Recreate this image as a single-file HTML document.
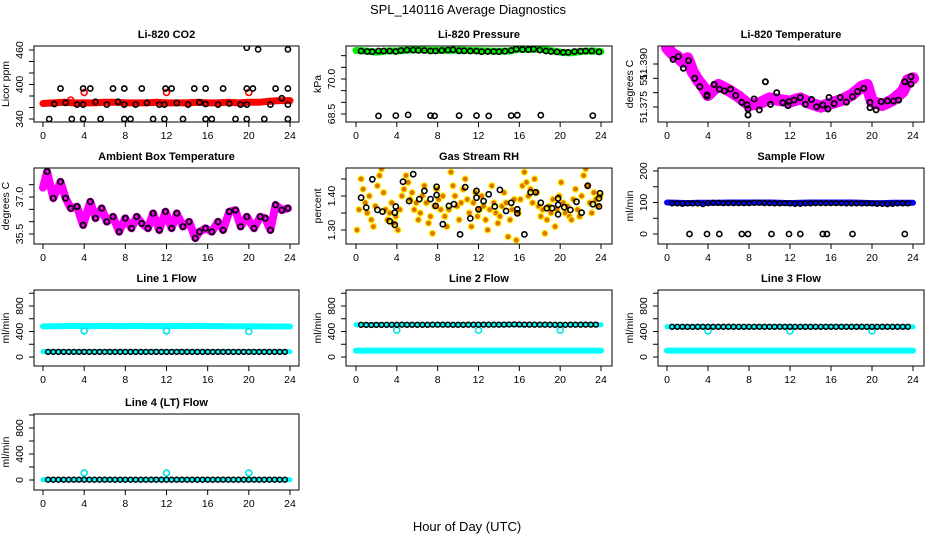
<!DOCTYPE html>
<html><head><meta charset="utf-8">
<style>
html,body{margin:0;padding:0;background:#fff;}
svg{display:block;font-family:"Liberation Sans",Arial,sans-serif;}
</style></head>
<body>
<svg id="chart" width="936" height="540" viewBox="0 0 936 540">
<text x="468" y="14" text-anchor="middle" font-size="13">SPL_140116  Average Diagnostics</text>
<text x="467" y="531" text-anchor="middle" font-size="13">Hour of Day (UTC)</text>
</svg>
<script>
// ---------- DATA ----------
const xTicks = [0,4,8,12,16,20,24];

const co2BandV = [367,368,369,368,368,368,369,369,368,368,368,369,368,368,368,369,368,368,369,368,369,369,371,372,372];
const co2RedOutX = [2.7,4,12,20];
const co2RedOutV = [373,386,386,386];
const co2BlackX = [0.6,1.1,1.7,2.2,2.8,3.3,3.9,3.9,3.9,4.6,5.1,5.6,6.2,6.8,7.3,7.9,7.9,7.9,8.5,9.0,9.6,10.1,10.7,11.3,11.8,11.8,11.9,12.5,13.0,13.6,14.1,14.7,15.2,15.8,15.8,15.8,16.4,17.0,17.5,18.1,18.7,19.2,19.8,19.8,19.8,19.8,20.4,20.9,21.5,22.1,22.6,23.2,23.8,23.8,23.8,23.8];
const co2BlackV = [340,366,393,368,340,365,393,340,365,393,370,340,365,393,370,393,365,340,340,365,393,368,340,365,365,340,393,393,368,340,365,393,369,366,393,340,340,365,393,367,340,365,365,393,340,464,393,461,340,365,393,376,365,393,340,461];

const presBandV = [71.22,71.2,71.15,71.2,71.2,71.24,71.25,71.23,71.22,71.23,71.24,71.22,71.21,71.2,71.19,71.2,71.28,71.27,71.28,71.22,71.15,71.12,71.18,71.2,71.18];
const presBlackX = [0.5,1.1,1.6,2.2,2.7,3.3,3.9,4.4,5.0,5.6,6.1,6.7,7.3,7.8,8.4,9.0,9.5,10.1,10.6,11.2,11.8,12.3,12.9,13.5,14.0,14.6,15.2,15.7,16.3,16.9,17.4,18.0,18.6,19.1,19.7,20.3,20.8,21.4,22.0,22.5,23.1,23.8];
const presBlackV = [71.2,71.18,71.17,71.2,71.2,71.2,71.18,71.22,71.24,71.24,71.23,71.22,71.2,71.2,71.22,71.24,71.25,71.21,71.21,71.2,71.2,71.17,71.18,71.18,71.17,71.19,71.22,71.28,71.26,71.26,71.28,71.24,71.2,71.18,71.16,71.14,71.14,71.18,71.19,71.2,71.2,71.16];
const presOutX = [2.2,3.9,5.1,7.3,7.7,10.1,11.8,13.0,15.2,15.8,18.1,23.2];
const presOutV = [68.42,68.43,68.46,68.43,68.42,68.43,68.43,68.42,68.43,68.45,68.45,68.43];

const ltBandX = [0,0.5,1,1.5,2,2.5,3,3.5,4,4.5,5,6,7,8,9,10,11,12,13,14,15,16,17,18,19,19.5,20,21,22,23,23.5,24];
const ltBandV = [51.3957,51.3937,51.3926,51.3908,51.392,51.3873,51.3844,51.3821,51.3792,51.3809,51.3827,51.3809,51.3786,51.3757,51.3763,51.378,51.3774,51.3769,51.378,51.3763,51.3751,51.3763,51.3774,51.3792,51.3821,51.3827,51.3769,51.3757,51.3774,51.3804,51.3844,51.385];
const ltBlackX = [0.6,1.1,1.6,2.1,2.7,3.2,3.9,3.9,4.6,5.1,5.6,6.2,6.7,7.3,7.8,7.9,7.9,8.5,9.0,9.6,10.1,10.7,11.3,11.8,11.9,12.4,13.0,13.5,14.1,14.6,15.2,15.7,15.8,16.3,16.9,17.5,18.1,18.6,19.2,19.8,19.8,20.4,20.9,21.5,22.1,22.6,23.2,23.8,23.8];
const ltBlackV = [51.3916,51.3926,51.3885,51.3912,51.385,51.3821,51.3788,51.3792,51.3829,51.3812,51.3806,51.3812,51.379,51.3766,51.3757,51.3743,51.3722,51.3778,51.374,51.3838,51.3759,51.38,51.3765,51.3755,51.3769,51.3774,51.3783,51.3759,51.3776,51.3751,51.3757,51.3743,51.3783,51.3762,51.3783,51.3767,51.3786,51.3804,51.3815,51.3766,51.3748,51.374,51.3769,51.3771,51.3771,51.3774,51.3838,51.3856,51.383];

const abX = [0,0.4,1,1.7,2.2,2.7,3.3,3.9,4.6,5.1,5.7,6.2,6.8,7.4,8,8.6,9.1,9.6,10.2,10.7,11.3,11.9,12.5,13,13.6,14.2,14.8,15.2,15.8,16.4,17,17.5,18.1,18.7,19.2,19.8,20.5,21.1,21.6,22.1,22.6,23.2,23.8];
const abV = [37.38,38.03,36.95,37.62,36.95,36.54,36.61,35.86,36.81,36.14,36.54,36.0,36.2,35.59,36.14,35.73,36.2,35.93,35.73,36.34,35.66,36.41,35.73,36.34,35.8,36.0,35.33,35.59,35.73,35.59,36.0,35.66,36.41,36.47,35.8,36.2,35.73,36.2,36.14,35.66,36.68,36.47,36.54];

const rhOrangeV = [1.30,1.36,1.45,1.42,1.38,1.35,1.40,1.33,1.31,1.37,1.43,1.46,1.48,1.41,1.36,1.33,1.35,1.38,1.32,1.34,1.30,1.36,1.40,1.42,1.46,1.44,1.39,1.41,1.36,1.38,1.33,1.35,1.40,1.43,1.38,1.32,1.34,1.29,1.37,1.42,1.39,1.36,1.40,1.34,1.31,1.36,1.47,1.43,1.40,1.37,1.33,1.38,1.42,1.45,1.39,1.35,1.31,1.38,1.41,1.34,1.36,1.40,1.37,1.33,1.30,1.36,1.43,1.38,1.35,1.32,1.34,1.37,1.41,1.38,1.28,1.33,1.36,1.39,1.27,1.35,1.39,1.43,1.47,1.44,1.40,1.42,1.38,1.45,1.41,1.37,1.34,1.36,1.29,1.33,1.37,1.35,1.39,1.31,1.36,1.40,1.44,1.38,1.35,1.37,1.34,1.33,1.39,1.42,1.36,1.34,1.40,1.46,1.48,1.43,1.38,1.35,1.41,1.39,1.37,1.40];
const rhBlackX = [0.5,1.0,1.6,2.1,2.6,3.3,3.8,3.8,3.9,4.6,5.2,5.6,6.2,6.7,7.3,7.8,7.9,7.9,8.5,9.1,9.6,10.2,10.7,11.2,11.8,11.8,12.0,12.5,13.0,13.6,14.1,14.7,15.2,15.8,15.8,16.5,17.1,17.6,18.1,18.7,19.2,19.8,19.8,19.8,20.4,21.0,21.6,22.1,22.7,23.2,23.8,23.8,23.9];
const rhBlackV = [1.395,1.366,1.449,1.359,1.354,1.326,1.315,1.351,1.369,1.442,1.385,1.464,1.391,1.415,1.391,1.371,1.403,1.427,1.317,1.371,1.376,1.287,1.426,1.334,1.395,1.415,1.361,1.385,1.405,1.369,1.418,1.356,1.38,1.349,1.361,1.287,1.411,1.411,1.38,1.364,1.364,1.393,1.374,1.346,1.367,1.359,1.383,1.351,1.43,1.376,1.369,1.393,1.408];

const sfBandV = [100,99,98,99,99,99,100,100,100,100,100,99,98,99,100,100,100,100,100,99,98,98,99,99,99];
const sfBlackV = [97,97,96,97,97,97,95,98,99,99,98,98,98,98,98,98,99,99,98,98,97,97,98,97,96,96,97,97,98,98,98,98,98,98,97,97,97,97,97,97,96,96,95,96,97,97,97,96];
const sfOutX = [2.2,3.9,5.1,7.3,7.9,10.2,11.9,13.0,15.2,15.6,18.1,23.2];
const sfOutV = [0,0,0,0,0,0,0,0,0,0,0,0];

const l1HighV = [480,482,485,486,484,485,486,485,484,486,485,484,485,486,485,486,485,484,483,482,481,480,479,479,478];
const l1LowV  = [85,86,86,85,85,85,86,86,85,85,85,86,85,86,86,85,85,85,86,85,85,86,85,85,85];
const l1BlackV= [80,80,80,80,80,80,80,80,80,80,80,80,80,80,80,80,80,80,80,80,80,80,80,80,80,80,80,80,80,80,80,80,80,80,80,80,80,80,80,80,80,80,80,80,80,80,80];
const l1OutX = [4,12,20]; const l1OutV = [410,410,400];

const l2HighV = [505,505,505,505,505,505,505,505,505,505,505,505,505,505,505,505,505,505,505,505,505,505,505,505,505];
const l2LowV  = [100,100,101,100,100,100,101,100,100,100,101,100,100,100,100,101,100,100,100,100,100,100,100,100,100];
const l2BlackV= [505,503,502,503,504,505,505,505,506,505,505,505,505,505,507,507,506,506,505,505,505,506,507,507,508,507,507,507,508,510,512,510,508,508,507,506,506,506,505,505,505,506,507,507,508,508,508];
const l2OutX = [4,12,20]; const l2OutV = [420,420,420];

const l3HighV = [475,474,473,473,474,474,473,473,474,474,473,473,474,474,473,473,474,474,473,473,474,474,473,473,474];
const l3LowV  = [100,100,100,100,100,100,100,100,100,100,100,100,100,100,100,100,100,100,100,100,100,100,100,100,100];
const l3BlackV= [474,474,473,472,472,473,474,474,474,474,473,473,474,474,474,474,473,473,474,474,474,474,474,474,474,474,474,474,474,474,474,474,474,474,474,474,474,474,474,474,474,474,474,474,474,474,474];
const l3OutX = [4,12,20]; const l3OutV = [410,410,410];

const l4LowV  = [5,5,5,5,5,5,5,5,5,5,5,5,5,5,5,5,5,5,5,5,5,5,5,5,5];
const l4BlackV= [5,5,5,5,5,5,5,5,5,5,5,5,5,5,5,5,5,5,5,5,5,5,5,5,5,5,5,5,5,5,5,5,5,5,5,5,5,5,5,5,5,5,5,5,5,5,5];
const l4OutX = [4,12,20]; const l4OutV = [110,110,110];

// ---------- LAYOUT ----------
const NS = "http://www.w3.org/2000/svg";
const svg = document.getElementById('chart');
const cols = [{b0:34,b1:299,x0:43,x24:290},{b0:346,b1:612,x0:356,x24:601},{b0:658,b1:924,x0:667,x24:913}];
const rows = [{t:46,b:122},{t:168,b:244},{t:290,b:366},{t:414,b:490}];

function el(tag, attrs, parent){
  const e = document.createElementNS(NS, tag);
  for (const k in attrs) e.setAttribute(k, attrs[k]);
  (parent||svg).appendChild(e);
  return e;
}

function makePanel(slug, col, row, title, ylab, ymap, yticks, ylabels){
  const c = cols[col], r = rows[row];
  const g = el('g', {});
  
  
  const xs = v => c.x0 + (c.x24 - c.x0) * v / 24;
  const ys = v => ymap[1] + (v - ymap[0]) * (ymap[3] - ymap[1]) / (ymap[2] - ymap[0]);
  const clipId = 'clip-' + slug;
  const cp = el('clipPath', {id: clipId}, g);
  el('rect', {x:c.b0, y:r.t, width:c.b1-c.b0, height:r.b-r.t}, cp);
  const plot = el('g', {'clip-path':'url(#'+clipId+')'}, g);
  
  
  // title
  const tt = el('text', {x:(c.b0+c.b1)/2, y:r.t-8, 'text-anchor':'middle', 'font-size':'11', 'font-weight':'bold'}, g);
  tt.textContent = title;
  
  
  // x axis
  const xa = el('g', {}, g);
  
  
  el('line', {x1:xs(0), x2:xs(24), y1:r.b, y2:r.b, stroke:'#000'}, xa);
  xTicks.forEach(t => {
    el('line', {x1:xs(t), x2:xs(t), y1:r.b, y2:r.b+5, stroke:'#000'}, xa);
    const lb = el('text', {x:xs(t), y:r.b+17, 'text-anchor':'middle', 'font-size':'10.5'}, xa);
    lb.textContent = t;
    
    
  });
  // y axis
  const ya = el('g', {}, g);
  
  
  yticks.forEach(t => {
    const y = ys(t);
    if (y < r.t - 3 || y > r.b + 3) return;
    el('line', {x1:c.b0-5, x2:c.b0, y1:y, y2:y, stroke:'#000'}, ya);
  });
  ylabels.forEach(p => {
    const y = ys(p[0]);
    const lx = c.b0 - 11;
    const lb = el('text', {x:lx, y:y, 'text-anchor':'middle', 'font-size':'10.5', transform:'rotate(-90 '+lx+' '+y+')'}, ya);
    lb.textContent = p[1];
    
    
  });
  const yx = c.b0 - 25, ym = (r.t + r.b) / 2;
  const yl = el('text', {x:yx, y:ym, 'text-anchor':'middle', 'font-size':'10.5', transform:'rotate(-90 '+yx+' '+ym+')'}, g);
  yl.textContent = ylab;
  
  
  // box drawn last
  const bx = el('rect', {x:c.b0, y:r.t, width:c.b1-c.b0, height:r.b-r.t, fill:'none', stroke:'#000'}, g);
  
  
  return {xs, ys, plot};
}

function band(p, name, xsArr, vals, color, w){
  const pts = vals.map((v,i) => p.xs(xsArr[i]).toFixed(1) + ',' + p.ys(v).toFixed(1)).join(' ');
  const pl = el('polyline', {points:pts, fill:'none', stroke:color, 'stroke-width':w, 'stroke-linejoin':'round', 'stroke-linecap':'round'}, p.plot);
  
  
}
function dots(p, name, xsArr, vals, stroke, fill, rad, sw){
  const g = el('g', {}, p.plot);
  
  
  vals.forEach((v,i) => {
    const ci = el('circle', {cx:p.xs(xsArr[i]).toFixed(1), cy:p.ys(v).toFixed(1), r:rad, fill:fill, stroke:stroke, 'stroke-width':sw}, g);
    
    
  });
}
const hours = co2BandV.map((_,i) => i);
const halfHours = l1BlackV.map((_,i) => 0.5 + i*0.5);
const rhX = rhOrangeV.map((_,i) => 0.1 + i*0.2);

// CO2
let p = makePanel('co2', 0, 0, 'Li-820 CO2', 'Licor ppm', [340,119,460,50], [340,360,380,400,420,440,460], [[340,'340'],[400,'400'],[460,'460']]);
band(p, 'co2-red-band', hours, co2BandV, '#ff0000', 7);
dots(p, 'co2-red-outliers', co2RedOutX, co2RedOutV, '#ff0000', 'none', 3, 1.6);
dots(p, 'co2-black-points', co2BlackX, co2BlackV, '#000', 'none', 2.6, 1.6);

// Pressure
p = makePanel('pressure', 1, 0, 'Li-820 Pressure', 'kPa', [68.5,114,70.0,79], [68.5,69.0,69.5,70.0,70.5,71.0], [[68.5,'68.5'],[70.0,'70.0']]);
band(p, 'pressure-green-band', hours, presBandV, '#00ee00', 7);
dots(p, 'pressure-black-points', presBlackX, presBlackV, '#000', 'none', 2.6, 1.6);
dots(p, 'pressure-outliers', presOutX, presOutV, '#000', 'none', 2.6, 1.6);

// Li-820 temperature
p = makePanel('li820-temp', 2, 0, 'Li-820 Temperature', 'degrees C', [51.375,107,51.390,64], [51.375,51.380,51.385,51.390], [[51.375,'51.375'],[51.385,'51.'],[51.390,'51.390']]);
band(p, 'li820-temp-magenta-band', ltBandX, ltBandV, '#ff00ff', 12);
dots(p, 'li820-temp-black-points', ltBlackX, ltBlackV, '#000', 'none', 2.6, 1.8);

// Ambient box temp
p = makePanel('ambient-temp', 0, 1, 'Ambient Box Temperature', 'degrees C', [35.5,234,37.0,197], [35.5,36.0,36.5,37.0,37.5], [[35.5,'35.5'],[37.0,'37.0']]);
band(p, 'ambient-temp-magenta-band', abX, abV, '#ff00ff', 8);
dots(p, 'ambient-temp-black-points', abX.slice(1), abV.slice(1), '#000', 'none', 2.6, 1.8);

// Gas stream RH
p = makePanel('gas-rh', 1, 1, 'Gas Stream RH', 'percent', [1.30,230,1.40,196], [1.30,1.35,1.40,1.45], [[1.30,'1.30'],[1.40,'1.40']]);
dots(p, 'gas-rh-orange-points', rhX, rhOrangeV, '#ffee00', '#e07000', 3, 1.2);
dots(p, 'gas-rh-black-points', rhBlackX, rhBlackV, '#000', 'none', 2.6, 1.6);

// Sample flow
p = makePanel('sample-flow', 2, 1, 'Sample Flow', 'ml/min', [0,234,200,171], [0,50,100,150,200], [[0,'0'],[100,'100'],[200,'200']]);
band(p, 'sample-flow-blue-band', hours, sfBandV, '#0000ff', 6);
dots(p, 'sample-flow-black-points', halfHours.slice(0,48), sfBlackV, '#000', 'none', 2.4, 1.5);
dots(p, 'sample-flow-outliers', sfOutX, sfOutV, '#000', 'none', 2.6, 1.6);

const flowTicks = [0,200,400,600,800,1000];
const flowLabels = [[0,'0'],[400,'400'],[800,'800']];
// Line 1
p = makePanel('line1-flow', 0, 2, 'Line 1 Flow', 'ml/min', [0,357,800,306], flowTicks, flowLabels);
band(p, 'line1-cyan-high', hours, l1HighV, '#00ffff', 6);
band(p, 'line1-cyan-low', hours, l1LowV, '#00ffff', 5);
dots(p, 'line1-cyan-outliers', l1OutX, l1OutV, '#00e5e5', 'none', 3, 1.6);
dots(p, 'line1-black-points', halfHours, l1BlackV, '#000', 'none', 2.4, 1.5);
// Line 2
p = makePanel('line2-flow', 1, 2, 'Line 2 Flow', 'ml/min', [0,357,800,306], flowTicks, flowLabels);
band(p, 'line2-cyan-high', hours, l2HighV, '#00ffff', 5);
band(p, 'line2-cyan-low', hours, l2LowV, '#00ffff', 6);
dots(p, 'line2-cyan-outliers', l2OutX, l2OutV, '#00e5e5', 'none', 3, 1.6);
dots(p, 'line2-black-points', halfHours, l2BlackV, '#000', 'none', 2.4, 1.5);
// Line 3
p = makePanel('line3-flow', 2, 2, 'Line 3 Flow', 'ml/min', [0,357,800,306], flowTicks, flowLabels);
band(p, 'line3-cyan-high', hours, l3HighV, '#00ffff', 5);
band(p, 'line3-cyan-low', hours, l3LowV, '#00ffff', 6);
dots(p, 'line3-cyan-outliers', l3OutX, l3OutV, '#00e5e5', 'none', 3, 1.6);
dots(p, 'line3-black-points', halfHours, l3BlackV, '#000', 'none', 2.4, 1.5);
// Line 4
p = makePanel('line4-flow', 0, 3, 'Line 4 (LT) Flow', 'ml/min', [0,480,800,428], flowTicks, flowLabels);
band(p, 'line4-cyan-low', hours, l4LowV, '#00ffff', 5);
dots(p, 'line4-cyan-outliers', l4OutX, l4OutV, '#00e5e5', 'none', 3, 1.6);
dots(p, 'line4-black-points', halfHours, l4BlackV, '#000', 'none', 2.4, 1.5);
</script>
</body></html>
